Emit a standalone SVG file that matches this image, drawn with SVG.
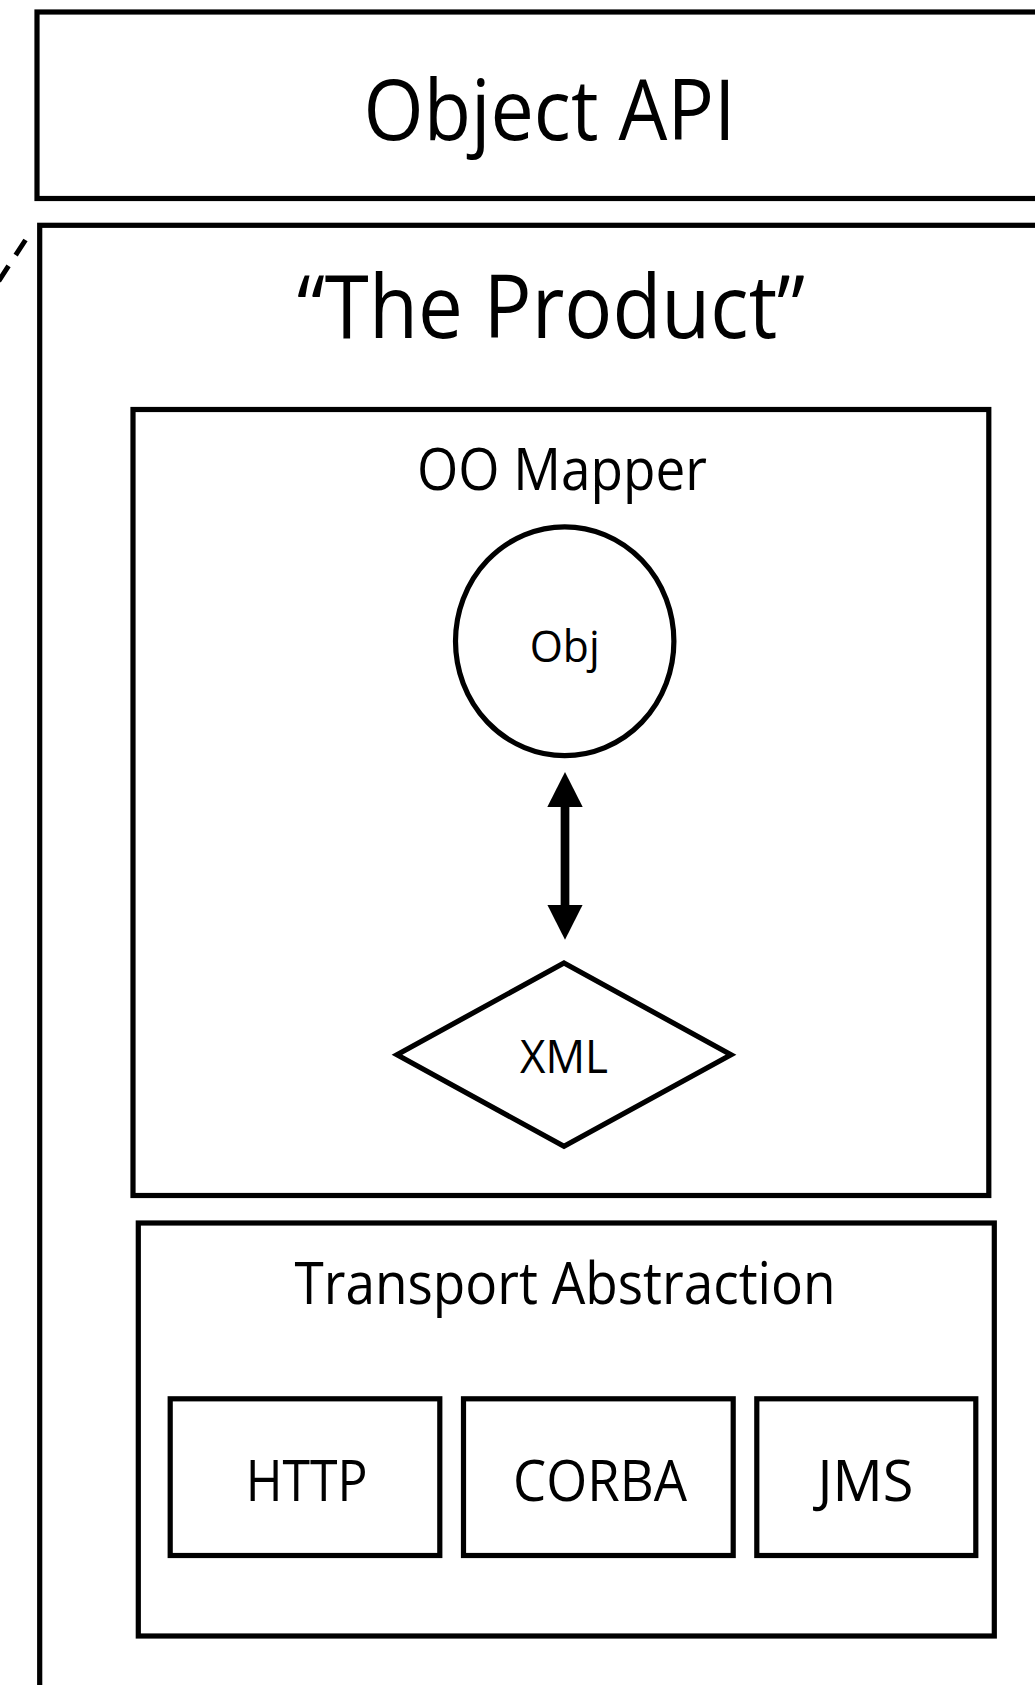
<svg xmlns="http://www.w3.org/2000/svg" width="1035" height="1685" viewBox="0 0 1035 1685">
<defs>
<style>
.box{fill:none;stroke:#000;stroke-width:5.2}
.shape{fill:#fff;stroke:#000;stroke-width:5.2}
.lbl{font-family:"Open Sans","Noto Sans","Liberation Sans",sans-serif;font-weight:400;fill:#000;text-anchor:middle}
.conn{stroke:#000;fill:none}
</style>
<marker id="head" markerUnits="userSpaceOnUse" markerWidth="36" markerHeight="36" viewBox="0 0 36 36" refX="15" refY="17.7" orient="auto-start-reverse">
<path d="M0,0 L35,17.7 L0,35.4 Z" fill="#000"/>
</marker>
</defs>
<rect width="1035" height="1685" fill="#fff"/>

<g id="object-api">
<rect class="box" x="37" y="12" width="1100" height="186.5"/>
<text class="lbl" x="549.5" y="140" font-size="84" textLength="372" lengthAdjust="spacingAndGlyphs">Object API</text>
</g>

<g id="the-product">
<rect class="box" x="39.7" y="225.3" width="1100" height="1600"/>
<text class="lbl" x="551" y="338" font-size="87" textLength="508" lengthAdjust="spacingAndGlyphs">“The Product”</text>
</g>

<g id="oo-mapper">
<rect class="box" x="133" y="409.5" width="855.8" height="786"/>
<text class="lbl" x="562" y="490.3" font-size="58" textLength="290" lengthAdjust="spacingAndGlyphs">OO Mapper</text>
</g>

<g id="obj">
<ellipse class="shape" cx="564.7" cy="641.2" rx="109.2" ry="114.4"/>
<text class="lbl" x="564.7" y="662" font-size="44" textLength="70" lengthAdjust="spacingAndGlyphs">Obj</text>
</g>

<g id="xml">
<polygon class="shape" points="564,963 731,1054.7 564,1146.4 397,1054.7"/>
<text class="lbl" x="564" y="1072.7" font-size="45" textLength="88" lengthAdjust="spacingAndGlyphs">XML</text>
</g>

<g id="transport-abstraction">
<rect class="box" x="138.3" y="1223" width="856" height="413"/>
<text class="lbl" x="565" y="1303.7" font-size="58" textLength="541" lengthAdjust="spacingAndGlyphs">Transport Abstraction</text>
</g>

<g id="http">
<rect class="box" x="170.2" y="1398.8" width="269.6" height="156.7"/>
<text class="lbl" x="306.7" y="1500.7" font-size="57.5" textLength="122" lengthAdjust="spacingAndGlyphs">HTTP</text>
</g>

<g id="corba">
<rect class="box" x="463.5" y="1398.8" width="269.7" height="156.7"/>
<text class="lbl" x="600" y="1500.7" font-size="57.5" textLength="174" lengthAdjust="spacingAndGlyphs">CORBA</text>
</g>

<g id="jms">
<rect class="box" x="756.8" y="1398.8" width="219" height="156.7"/>
<text class="lbl" x="865.5" y="1500.7" font-size="57.5" textLength="96" lengthAdjust="spacingAndGlyphs">JMS</text>
</g>

<g id="connectors">
<line class="conn" x1="565" y1="792" x2="565" y2="919.7" stroke-width="8.7" marker-start="url(#head)" marker-end="url(#head)"/>
<line class="conn" x1="25.5" y1="240" x2="-10" y2="294.3" stroke-width="5" stroke-dasharray="18 13"/>
</g>
</svg>
